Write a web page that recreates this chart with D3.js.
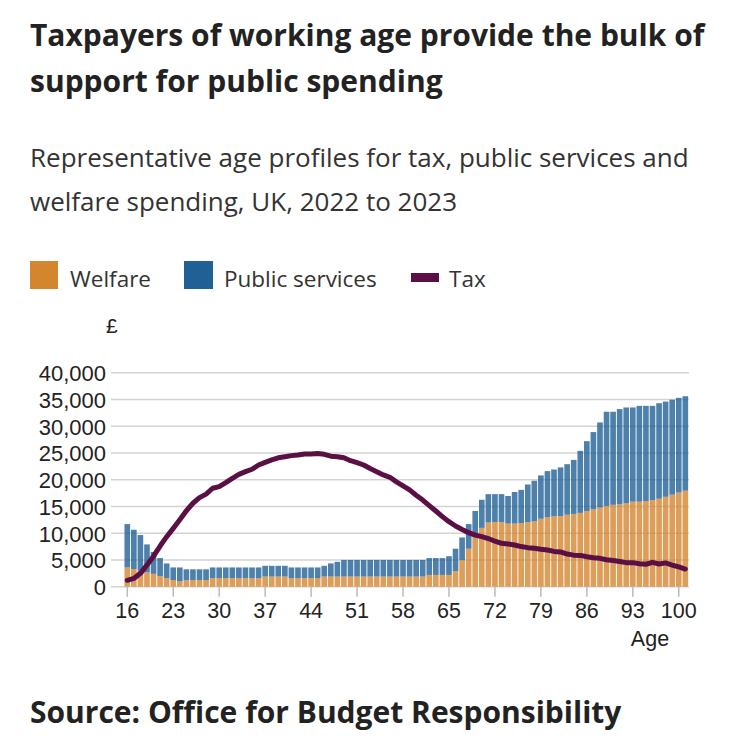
<!DOCTYPE html>
<html>
<head>
<meta charset="utf-8">
<script src="https://cdn.jsdelivr.net/npm/d3@7"></script>
<style>
  body { margin: 0; background: #fff; }
  svg { display: block; }
  .title { font: bold 30px "Open Sans", sans-serif; fill: #222; }
  .sub { font: 26px "Open Sans", sans-serif; fill: #333; }
  .legend text { font: 22.5px "Open Sans", sans-serif; fill: #333; }
  .axis text { font: 22px "Liberation Sans", Arial, sans-serif; fill: #222; }
  .source { font: bold 30px "Open Sans", sans-serif; fill: #222; }
</style>
</head>
<body>
<svg id="chart" width="738" height="750"></svg>
<script>
// ages 16 to 101
var ages = d3.range(16, 102);

var welfare = [
  3600, 3300, 3000, 2700, 2400, 2000, 1600, 1250, 1000, 1250,
  1250, 1250, 1250, 1600, 1600, 1600, 1600, 1600, 1600, 1600,
  1600, 1900, 1900, 1900, 1900, 1600, 1600, 1600, 1600, 1600,
  1900, 1900, 1900, 1900, 1900, 1900, 1900, 1900, 1900, 1900,
  1900, 1900, 1900, 1900, 1900, 1900, 2200, 2200, 2200, 2200,
  2900, 5000, 7100, 9500, 11000, 12000, 12100, 12100, 11800, 11800,
  11900, 12050, 12200, 12700, 13000, 13150, 13200, 13450, 13600, 13800,
  14150, 14450, 14800, 15100, 15300, 15400, 15600, 15900, 15900, 16000,
  16200, 16450, 16800, 17200, 17600, 17950
];

var services = [
  11700, 10650, 9650, 7900, 6500, 5350, 4350, 3600, 3600, 3250,
  3250, 3250, 3250, 3600, 3600, 3600, 3600, 3600, 3600, 3600,
  3600, 3900, 3900, 3900, 3900, 3600, 3600, 3600, 3600, 3600,
  3900, 4350, 4650, 5000, 5000, 5000, 5000, 5000, 5000, 5000,
  5000, 5000, 5000, 5000, 5000, 5000, 5350, 5350, 5350, 5700,
  7100, 9200, 11700, 14150, 16250, 17300, 17300, 17300, 16950, 17700,
  18100, 19100, 19800, 20800, 21600, 21900, 22300, 22900, 23700, 25400,
  27200, 28900, 30700, 32700, 32700, 33200, 33500, 33500, 33800, 33800,
  33800, 34300, 34600, 34950, 35300, 35600
].map(function(total, i) { return total - welfare[i]; });

var tax = [
  1200, 1550, 2500, 4050, 5700, 7600, 9350, 10900, 12500, 14200,
  15600, 16650, 17300, 18400, 18700, 19450, 20250, 21000, 21500, 21950,
  22750, 23250, 23700, 24100, 24300, 24500, 24600, 24800, 24800, 24900,
  24750, 24400, 24300, 24100, 23550, 23200, 22750, 22100, 21500, 20900,
  20450, 19600, 18850, 18100, 17100, 16200, 15150, 14150, 13100, 12150,
  11350, 10700, 10100, 9650, 9350, 9000, 8500, 8100, 8000, 7800,
  7500, 7300, 7200, 7000, 6850, 6600, 6500, 6100, 5900, 5850,
  5600, 5400, 5300, 5050, 4900, 4700, 4500, 4500, 4300, 4200,
  4550, 4250, 4450, 4050, 3700, 3300
];

var yTicks = [0, 5000, 10000, 15000, 20000, 25000, 30000, 35000, 40000];
var xTicks = [16, 23, 30, 37, 44, 51, 58, 65, 72, 79, 86, 93, 100];

var colors = { welfare: "#d4862f", services: "#206095", tax: "#5a0f45" };

var svg = d3.select("#chart");

// Titles
var title = svg.append("text").attr("class", "title").attr("x", 30).attr("y", 46);
title.append("tspan").attr("x", 30).text("Taxpayers of working age provide the bulk of");
title.append("tspan").attr("x", 30).attr("dy", 46).text("support for public spending");

var sub = svg.append("text").attr("class", "sub").attr("x", 30).attr("y", 167);
sub.append("tspan").attr("x", 30).text("Representative age profiles for tax, public services and");
sub.append("tspan").attr("x", 30).attr("dy", 44).text("welfare spending, UK, 2022 to 2023");

// Legend
var legend = svg.append("g").attr("class", "legend");
legend.append("rect").attr("x", 30).attr("y", 261).attr("width", 28).attr("height", 28).attr("fill", colors.welfare);
legend.append("text").attr("x", 70).attr("y", 287).text("Welfare");
legend.append("rect").attr("x", 184).attr("y", 261).attr("width", 29).attr("height", 28).attr("fill", colors.services);
legend.append("text").attr("x", 224).attr("y", 287).text("Public services");
legend.append("rect").attr("x", 411).attr("y", 273).attr("width", 28).attr("height", 9).attr("fill", colors.tax);
legend.append("text").attr("x", 449).attr("y", 287).text("Tax");

// Scales
var x = d3.scaleBand()
    .domain(ages)
    .range([124, 688.6])
    .paddingInner(0.14)
    .paddingOuter(0.07);

var y = d3.scaleLinear()
    .domain([0, 40000])
    .range([586.7, 372.7]);

var g = svg.append("g");

// Gridlines
g.append("g")
  .selectAll("line")
  .data(yTicks)
  .enter().append("line")
    .attr("x1", 111)
    .attr("x2", 689)
    .attr("y1", function(d) { return y(d); })
    .attr("y2", function(d) { return y(d); })
    .attr("stroke", "#d3d3d3")
    .attr("stroke-width", 1.5);

// Y axis labels
var yAxis = g.append("g")
    .attr("class", "axis")
    .attr("transform", "translate(106,0)")
    .call(d3.axisLeft(y).tickValues(yTicks).tickSize(0).tickPadding(0).tickFormat(d3.format(",")));
yAxis.select(".domain").remove();
yAxis.selectAll("text").attr("dy", "0.36em");

svg.append("text").attr("x", 106).attr("y", 333)
  .style("font", "21px 'Liberation Sans', Arial, sans-serif").attr("fill", "#222").text("£");

// Stacked bars
var rows = ages.map(function(a, i) { return { age: a, welfare: welfare[i], services: services[i] }; });
var stack = d3.stack().keys(["welfare", "services"]);

g.append("g")
  .selectAll("g")
  .data(stack(rows))
  .enter().append("g")
    .attr("fill", function(d) { return colors[d.key]; })
    .attr("fill-opacity", 0.8)
  .selectAll("rect")
  .data(function(d) { return d; })
  .enter().append("rect")
    .attr("x", function(d) { return x(d.data.age); })
    .attr("y", function(d) { return y(d[1]); })
    .attr("height", function(d) { return y(d[0]) - y(d[1]); })
    .attr("width", x.bandwidth());

// X axis
var xAxis = g.append("g")
    .attr("class", "axis")
    .attr("transform", "translate(0,586.7)")
    .call(d3.axisBottom(x).tickValues(xTicks).tickSize(10).tickPadding(6));
xAxis.select(".domain").remove();
xAxis.selectAll("line").attr("stroke", "#bbb").attr("stroke-width", 1.5);
xAxis.selectAll("text").style("font-size", "21.5px");

svg.append("text").attr("x", 650).attr("y", 646)
  .attr("text-anchor", "middle")
  .style("font", "21.5px 'Liberation Sans', Arial, sans-serif").attr("fill", "#222").text("Age");

// Tax line
var line = d3.line()
    .x(function(d, i) { return x(ages[i]) + x.bandwidth() / 2; })
    .y(function(d) { return y(d); });

g.append("path")
  .datum(tax)
  .attr("fill", "none")
  .attr("stroke", colors.tax)
  .attr("stroke-width", 5)
  .attr("stroke-linejoin", "round")
  .attr("stroke-linecap", "round")
  .attr("d", line);

// Source
svg.append("text").attr("class", "source").attr("x", 30).attr("y", 723)
  .text("Source: Office for Budget Responsibility");
</script>
</body>
</html>
